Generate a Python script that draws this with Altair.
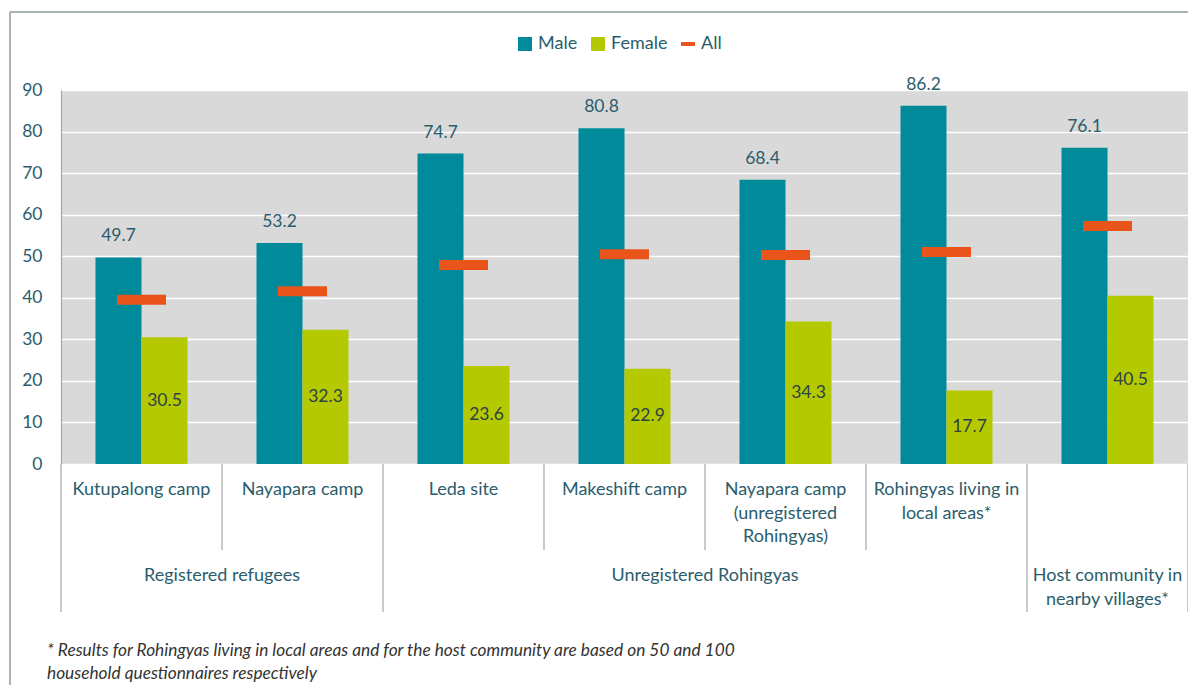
import altair as alt
import pandas as pd

# ---- data -------------------------------------------------------------
sites = [
    "Kutupalong camp",
    "Nayapara camp",
    "Leda site",
    "Makeshift camp",
    "Nayapara camp (unregistered Rohingyas)",
    "Rohingyas living in local areas*",
    "Host community in nearby villages*",
]
site_labels = [
    "Kutupalong camp",
    "Nayapara camp",
    "Leda site",
    "Makeshift camp",
    "Nayapara camp\n(unregistered\nRohingyas)",
    "Rohingyas living in\nlocal areas*",
    "",
]
male = [49.7, 53.2, 74.7, 80.8, 68.4, 86.2, 76.1]
female = [30.5, 32.3, 23.6, 22.9, 34.3, 17.7, 40.5]
overall = [39.5, 41.6, 47.9, 50.5, 50.3, 51.0, 57.3]

series_names = ["Male", "Female", "All"]

group_labels_edge = ["Registered refugees", "Unregistered Rohingyas"]
group_anchor_edge = [sites[0], sites[3]]
group_labels_mid = ["Host community in\nnearby villages*"]
group_anchor_mid = [sites[6]]

long_sep_left = [sites[0], sites[2], sites[6]]
short_sep_left = [sites[1], sites[3], sites[4], sites[5]]
long_sep_right = [sites[6]]

footnote = ("* Results for Rohingyas living in local areas and for the host community are based on 50 and 100\n"
            "household questionnaires respectively")

# ---- style ------------------------------------------------------------
W, H = 1127, 374
TEXT = "#2a5d6c"
GREY = "#a6a6a6"
FONT = "Lato"
C_MALE, C_FEMALE, C_ALL = "#008a9a", "#b5c900", "#e8541a"
CAT_FS = 18

bars_df = pd.DataFrame({
    "site": sites * 2,
    "series": ["Male"] * len(sites) + ["Female"] * len(sites),
    "value": male + female,
})
all_df = pd.DataFrame({"site": sites, "series": ["All"] * len(sites), "value": overall})
lab_df = pd.DataFrame({"site": sites, "label": site_labels})
leg_df = pd.DataFrame({"site": [sites[0]] * 3, "series": series_names, "value": [0, 0, 0]})

xscale = alt.Scale(domain=sites, paddingInner=0, paddingOuter=0)
yscale = alt.Scale(domain=[0, 90])
xoff = alt.XOffset("series:N", scale=alt.Scale(domain=["Male", "Female"], paddingOuter=0.75, paddingInner=0))

x_main = alt.X("site:N", scale=xscale, sort=sites,
               axis=alt.Axis(labels=False, ticks=False, title=None, grid=False,
                             domainColor=GREY, domainWidth=1.2))
x_plain = alt.X("site:N", scale=xscale, sort=sites, axis=None)

legend = alt.Legend(
    title=None, orient="none", direction="horizontal", legendX=455, legendY=-55,
    symbolSize=196, symbolStrokeWidth=0, symbolOpacity=1, labelFontSize=18, labelColor=TEXT,
    labelFont=FONT, labelOffset=4, columnPadding=11,
)
color = alt.Color(
    "series:N",
    scale=alt.Scale(domain=series_names, range=[C_MALE, C_FEMALE, C_ALL]),
    legend=legend,
)
shape = alt.Shape(
    "series:N",
    scale=alt.Scale(domain=series_names, range=["square", "square", "M-1,-0.28H1V0.28H-1Z"]),
    legend=legend,
)

bars = alt.Chart(bars_df).mark_bar().encode(
    x=x_main,
    xOffset=xoff,
    y=alt.Y("value:Q", scale=yscale,
            axis=alt.Axis(values=list(range(0, 91, 10)), title=None, ticks=False,
                          labelPadding=19, labelFontSize=17.5, labelColor=TEXT, labelFont=FONT,
                          domainColor=GREY, domainWidth=1.2,
                          gridColor="white", gridWidth=1.5)),
    color=color,
)

legend_src = alt.Chart(leg_df).mark_point(filled=True, opacity=0).encode(
    x=x_plain, y=alt.Y("value:Q", scale=yscale), color=color, shape=shape,
)

ticks = alt.Chart(all_df).mark_tick(thickness=10, size=49, opacity=1).encode(
    x=x_plain, y=alt.Y("value:Q", scale=yscale), color=color,
)

male_lab = alt.Chart(bars_df).transform_filter("datum.series === 'Male'").mark_text(
    baseline="middle", dy=-21, fontSize=17.5, color=TEXT, font=FONT
).encode(x=x_plain, xOffset=xoff, y=alt.Y("value:Q", scale=yscale),
         text=alt.Text("value:Q", format=".1f"))

female_lab = alt.Chart(bars_df).transform_filter("datum.series === 'Female'").transform_calculate(
    mid="datum.value / 2"
).mark_text(baseline="middle", fontSize=17.5, color="#2b4248", font=FONT).encode(
    x=x_plain, xOffset=xoff, y=alt.Y("mid:Q", scale=yscale),
    text=alt.Text("value:Q", format=".1f"))

lvl1 = alt.Chart(lab_df).mark_text(
    baseline="top", align="center", lineBreak="\n", fontSize=CAT_FS, lineHeight=23.5,
    color=TEXT, font=FONT
).encode(x=x_plain, y=alt.value(H + 17), text="label:N")

lvl2_edge = alt.Chart(pd.DataFrame({"site": group_anchor_edge, "label": group_labels_edge})).mark_text(
    baseline="top", align="center", lineBreak="\n", fontSize=CAT_FS, lineHeight=23.5,
    color=TEXT, font=FONT
).encode(x=alt.X("site:N", scale=xscale, sort=sites, axis=None, bandPosition=1),
         y=alt.value(H + 103), text="label:N")

lvl2_mid = alt.Chart(pd.DataFrame({"site": group_anchor_mid, "label": group_labels_mid})).mark_text(
    baseline="top", align="center", lineBreak="\n", fontSize=CAT_FS, lineHeight=23.5,
    color=TEXT, font=FONT
).encode(x=alt.X("site:N", scale=xscale, sort=sites, axis=None, bandPosition=0.5),
         y=alt.value(H + 103), text="label:N")

sep_long = alt.Chart(pd.DataFrame({"site": long_sep_left})).mark_rule(color=GREY, strokeWidth=1.2).encode(
    x=alt.X("site:N", scale=xscale, sort=sites, axis=None, bandPosition=0),
    y=alt.value(H), y2=alt.value(H + 148))
sep_long_r = alt.Chart(pd.DataFrame({"site": long_sep_right})).mark_rule(color=GREY, strokeWidth=1.2).encode(
    x=alt.X("site:N", scale=xscale, sort=sites, axis=None, bandPosition=1),
    y=alt.value(H), y2=alt.value(H + 148))
sep_short = alt.Chart(pd.DataFrame({"site": short_sep_left})).mark_rule(color=GREY, strokeWidth=1.2).encode(
    x=alt.X("site:N", scale=xscale, sort=sites, axis=None, bandPosition=0),
    y=alt.value(H), y2=alt.value(H + 86))

one = pd.DataFrame({"k": [0]})
frame_top = alt.Chart(one).mark_rule(color="#8c9b9b", strokeWidth=1.5).encode(
    x=alt.value(-51), x2=alt.value(W + 20), y=alt.value(-78))
frame_left = alt.Chart(one).mark_rule(color="#8c9b9b", strokeWidth=1.5).encode(
    x=alt.value(-51), y=alt.value(-78), y2=alt.value(H + 260))

note = alt.Chart(pd.DataFrame({"t": [footnote]})).mark_text(
    align="left", baseline="middle", lineBreak="\n", fontSize=17.3, lineHeight=23,
    fontStyle="italic", color="#333333", font=FONT
).encode(x=alt.value(-14), y=alt.value(561), text="t:N")

chart = alt.layer(
    legend_src, bars, ticks, male_lab, female_lab, lvl1, lvl2_edge, lvl2_mid,
    sep_long, sep_long_r, sep_short, frame_top, frame_left, note,
).properties(
    width=W, height=H,
    autosize=alt.AutoSizeParams(type="none"),
    padding={"left": 53, "top": 82, "right": 0, "bottom": 221},
    background="white",
).configure_view(fill="#d9d9d9", stroke=None).configure_text(font=FONT)

chart.save("out.html", embed_options={"renderer": "svg", "actions": False})
